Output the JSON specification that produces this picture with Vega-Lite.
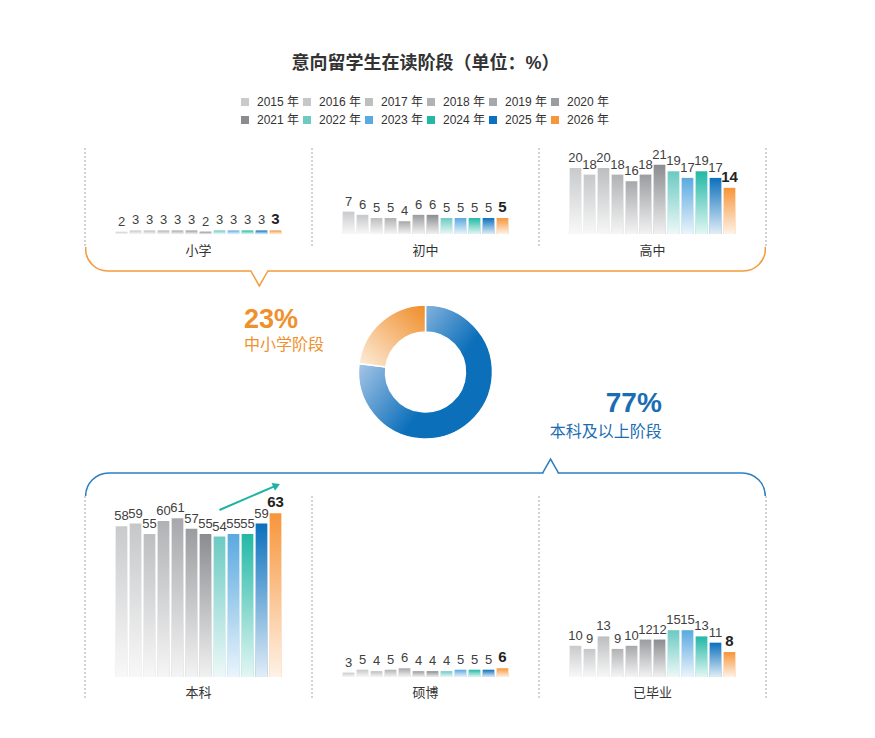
{
  "$schema": "https://vega.github.io/schema/vega-lite/v6.json",
  "autosize": {"type": "pad"},
  "padding": {"left": 84, "top": 55, "right": 20, "bottom": 20},
  "background": "white",
  "title": {"text": "意向留学生在读阶段（单位：%）", "fontSize": 18, "fontWeight": "bold", "color": "#333333", "anchor": "middle", "offset": 23},
  "bounds": "flush",
  "spacing": 0,
  "config": {
    "font": "Liberation Sans, Noto Sans CJK SC",
    "view": {"stroke": null},
    "range": {"category": ["#c9cacc", "#c6c7c9", "#bdbec0", "#b1b2b4", "#a7a8ab", "#9b9c9f", "#8b8c90", "#6ccac3", "#5aa9e0", "#22b8a6", "#0b70bd", "#f7953a"]},
    "legend": {"orient": "none", "legendX": 154, "legendY": -52, "columns": 6, "direction": "horizontal", "symbolType": "square", "symbolSize": 64, "symbolStrokeWidth": 0, "symbolOpacity": 1, "labelFontSize": 12, "labelColor": "#333333", "columnPadding": 1, "rowPadding": 6, "labelOffset": 6},
    "axisX": {"ticks": false, "domain": false, "grid": false, "labelAngle": 0, "labelFontSize": 13, "labelColor": "#333333", "labelBaseline": "middle"}
  },
  "datasets": {
    "stages": [
      {"stage": "小学", "year": "2015 年", "pct": 2}, {"stage": "小学", "year": "2016 年", "pct": 3}, {"stage": "小学", "year": "2017 年", "pct": 3}, {"stage": "小学", "year": "2018 年", "pct": 3},
      {"stage": "小学", "year": "2019 年", "pct": 3}, {"stage": "小学", "year": "2020 年", "pct": 3}, {"stage": "小学", "year": "2021 年", "pct": 2}, {"stage": "小学", "year": "2022 年", "pct": 3},
      {"stage": "小学", "year": "2023 年", "pct": 3}, {"stage": "小学", "year": "2024 年", "pct": 3}, {"stage": "小学", "year": "2025 年", "pct": 3}, {"stage": "小学", "year": "2026 年", "pct": 3},
      {"stage": "初中", "year": "2015 年", "pct": 7}, {"stage": "初中", "year": "2016 年", "pct": 6}, {"stage": "初中", "year": "2017 年", "pct": 5}, {"stage": "初中", "year": "2018 年", "pct": 5},
      {"stage": "初中", "year": "2019 年", "pct": 4}, {"stage": "初中", "year": "2020 年", "pct": 6}, {"stage": "初中", "year": "2021 年", "pct": 6}, {"stage": "初中", "year": "2022 年", "pct": 5},
      {"stage": "初中", "year": "2023 年", "pct": 5}, {"stage": "初中", "year": "2024 年", "pct": 5}, {"stage": "初中", "year": "2025 年", "pct": 5}, {"stage": "初中", "year": "2026 年", "pct": 5},
      {"stage": "高中", "year": "2015 年", "pct": 20}, {"stage": "高中", "year": "2016 年", "pct": 18}, {"stage": "高中", "year": "2017 年", "pct": 20}, {"stage": "高中", "year": "2018 年", "pct": 18},
      {"stage": "高中", "year": "2019 年", "pct": 16}, {"stage": "高中", "year": "2020 年", "pct": 18}, {"stage": "高中", "year": "2021 年", "pct": 21}, {"stage": "高中", "year": "2022 年", "pct": 19},
      {"stage": "高中", "year": "2023 年", "pct": 17}, {"stage": "高中", "year": "2024 年", "pct": 19}, {"stage": "高中", "year": "2025 年", "pct": 17}, {"stage": "高中", "year": "2026 年", "pct": 14},
      {"stage": "本科", "year": "2015 年", "pct": 58}, {"stage": "本科", "year": "2016 年", "pct": 59}, {"stage": "本科", "year": "2017 年", "pct": 55}, {"stage": "本科", "year": "2018 年", "pct": 60},
      {"stage": "本科", "year": "2019 年", "pct": 61}, {"stage": "本科", "year": "2020 年", "pct": 57}, {"stage": "本科", "year": "2021 年", "pct": 55}, {"stage": "本科", "year": "2022 年", "pct": 54},
      {"stage": "本科", "year": "2023 年", "pct": 55}, {"stage": "本科", "year": "2024 年", "pct": 55}, {"stage": "本科", "year": "2025 年", "pct": 59}, {"stage": "本科", "year": "2026 年", "pct": 63},
      {"stage": "硕博", "year": "2015 年", "pct": 3}, {"stage": "硕博", "year": "2016 年", "pct": 5}, {"stage": "硕博", "year": "2017 年", "pct": 4}, {"stage": "硕博", "year": "2018 年", "pct": 5},
      {"stage": "硕博", "year": "2019 年", "pct": 6}, {"stage": "硕博", "year": "2020 年", "pct": 4}, {"stage": "硕博", "year": "2021 年", "pct": 4}, {"stage": "硕博", "year": "2022 年", "pct": 4},
      {"stage": "硕博", "year": "2023 年", "pct": 5}, {"stage": "硕博", "year": "2024 年", "pct": 5}, {"stage": "硕博", "year": "2025 年", "pct": 5}, {"stage": "硕博", "year": "2026 年", "pct": 6},
      {"stage": "已毕业", "year": "2015 年", "pct": 10}, {"stage": "已毕业", "year": "2016 年", "pct": 9}, {"stage": "已毕业", "year": "2017 年", "pct": 13}, {"stage": "已毕业", "year": "2018 年", "pct": 9},
      {"stage": "已毕业", "year": "2019 年", "pct": 10}, {"stage": "已毕业", "year": "2020 年", "pct": 12}, {"stage": "已毕业", "year": "2021 年", "pct": 12}, {"stage": "已毕业", "year": "2022 年", "pct": 15},
      {"stage": "已毕业", "year": "2023 年", "pct": 15}, {"stage": "已毕业", "year": "2024 年", "pct": 13}, {"stage": "已毕业", "year": "2025 年", "pct": 11}, {"stage": "已毕业", "year": "2026 年", "pct": 8}
    ],
    "share": [
      {"stage": "本科及以上阶段", "share": 0.77},
      {"stage": "中小学阶段", "share": 0.23}
    ],
    "arrow": [
      {"stage": "本科", "year": "2022 年", "pct": 64.2},
      {"stage": "本科", "year": "2026 年", "pct": 73.5}
    ]
  },
  "vconcat": [
    {
      "width": 681, "height": 99,
      "data": {"name": "stages"},
      "encoding": {
        "x": {"field": "stage", "type": "nominal", "title": null, "scale": {"domain": ["小学", "初中", "高中"], "paddingInner": 0, "paddingOuter": 0}, "axis": {"labelPadding": 3}}
      },
      "layer": [
        {"transform": [{"filter": "datum.year == '2015 年' && (datum.stage == '小学' || datum.stage == '初中' || datum.stage == '高中')"}],
         "mark": {"type": "rule", "strokeDash": [2, 2], "color": "#a6a6a6", "strokeWidth": 1},
         "encoding": {"x": {"field": "stage", "type": "nominal", "bandPosition": 0}}},
        {"transform": [{"filter": "datum.year == '2015 年' && datum.stage == '高中'"}],
         "mark": {"type": "rule", "strokeDash": [2, 2], "color": "#a6a6a6", "strokeWidth": 1},
         "encoding": {"x": {"field": "stage", "type": "nominal", "bandPosition": 1}}},
        {
          "transform": [{"filter": "datum.stage == '小学'"}],
          "encoding": {
            "xOffset": {"field": "year", "type": "nominal", "scale": {"domain": ["_a", "_b", "2015 年", "2016 年", "2017 年", "2018 年", "2019 年", "2020 年", "2021 年", "2022 年", "2023 年", "2024 年", "2025 年", "2026 年", "_c", "_d"], "paddingInner": 0.165, "paddingOuter": 0.19}},
            "y": {"field": "pct", "type": "quantitative", "scale": {"domain": [-10.8, 71.7]}, "axis": null}
          },
          "layer": [
            {"mark": "bar", "encoding": {"color": {"field": "year", "type": "nominal", "title": null}}},
            {"mark": {"type": "bar", "fill": {"gradient": "linear", "x1": 0, "y1": 0, "x2": 0, "y2": 1, "stops": [{"offset": 0, "color": "rgba(255,255,255,0)"}, {"offset": 1, "color": "rgba(255,255,255,0.88)"}]}}},
            {"transform": [{"filter": "datum.year != '2026 年'"}], "mark": {"type": "text", "baseline": "bottom", "dy": -3, "fontSize": 13, "color": "#404040"}, "encoding": {"text": {"field": "pct"}}},
            {"transform": [{"filter": "datum.year == '2026 年'"}], "mark": {"type": "text", "baseline": "bottom", "dy": -3, "fontSize": 15, "fontWeight": "bold", "color": "#222222"}, "encoding": {"text": {"field": "pct"}}}
          ]
        },
        {
          "transform": [{"filter": "datum.stage == '初中'"}],
          "encoding": {
            "xOffset": {"field": "year", "type": "nominal", "scale": {"domain": ["_a", "_b", "2015 年", "2016 年", "2017 年", "2018 年", "2019 年", "2020 年", "2021 年", "2022 年", "2023 年", "2024 年", "2025 年", "2026 年", "_c", "_d"], "paddingInner": 0.165, "paddingOuter": 0.19}},
            "y": {"field": "pct", "type": "quantitative", "scale": {"domain": [-4.06, 26.9]}, "axis": null}
          },
          "layer": [
            {"mark": "bar", "encoding": {"color": {"field": "year", "type": "nominal", "title": null}}},
            {"mark": {"type": "bar", "fill": {"gradient": "linear", "x1": 0, "y1": 0, "x2": 0, "y2": 1, "stops": [{"offset": 0, "color": "rgba(255,255,255,0)"}, {"offset": 1, "color": "rgba(255,255,255,0.88)"}]}}},
            {"transform": [{"filter": "datum.year != '2026 年'"}], "mark": {"type": "text", "baseline": "bottom", "dy": -3, "fontSize": 13, "color": "#404040"}, "encoding": {"text": {"field": "pct"}}},
            {"transform": [{"filter": "datum.year == '2026 年'"}], "mark": {"type": "text", "baseline": "bottom", "dy": -3, "fontSize": 15, "fontWeight": "bold", "color": "#222222"}, "encoding": {"text": {"field": "pct"}}}
          ]
        },
        {
          "transform": [{"filter": "datum.stage == '高中'"}],
          "encoding": {
            "xOffset": {"field": "year", "type": "nominal", "scale": {"domain": ["_a", "_b", "2015 年", "2016 年", "2017 年", "2018 年", "2019 年", "2020 年", "2021 年", "2022 年", "2023 年", "2024 年", "2025 年", "2026 年", "_c", "_d"], "paddingInner": 0.165, "paddingOuter": 0.19}},
            "y": {"field": "pct", "type": "quantitative", "scale": {"domain": [-3.94, 26.06]}, "axis": null}
          },
          "layer": [
            {"mark": "bar", "encoding": {"color": {"field": "year", "type": "nominal", "title": null}}},
            {"mark": {"type": "bar", "fill": {"gradient": "linear", "x1": 0, "y1": 0, "x2": 0, "y2": 1, "stops": [{"offset": 0, "color": "rgba(255,255,255,0)"}, {"offset": 1, "color": "rgba(255,255,255,0.88)"}]}}},
            {"transform": [{"filter": "datum.year != '2026 年'"}], "mark": {"type": "text", "baseline": "bottom", "dy": -3, "fontSize": 13, "color": "#404040"}, "encoding": {"text": {"field": "pct"}}},
            {"transform": [{"filter": "datum.year == '2026 年'"}], "mark": {"type": "text", "baseline": "bottom", "dy": -3, "fontSize": 15, "fontWeight": "bold", "color": "#222222"}, "encoding": {"text": {"field": "pct"}}}
          ]
        }
      ],
      "resolve": {"scale": {"y": "independent"}}
    },
    {
      "width": 681, "height": 25,
      "data": {"values": [{}]},
      "encoding": {
        "x": {"datum": 0, "type": "quantitative", "scale": {"domain": [-0.001, 1.001]}, "axis": null},
        "y": {"datum": 0.04, "type": "quantitative", "scale": {"domain": [0, 1]}, "axis": null}
      },
      "layer": [
        {"mark": {"type": "rect", "clip": true, "fill": null, "stroke": "#f39a3c", "strokeWidth": 1.5, "cornerRadius": 22},
         "encoding": {"x2": {"datum": 1}, "y2": {"datum": 3}}},
        {"mark": {"type": "point", "shape": "M-0.93,-0.3L0.93,-0.3L0.93,0.3L-0.93,0.3Z", "size": 289, "filled": true, "color": "white", "strokeWidth": 0, "opacity": 1},
         "encoding": {"x": {"datum": 0.2555, "type": "quantitative"}}},
        {"mark": {"type": "point", "shape": "M-1,0L0,1.76L1,0", "size": 289, "filled": false, "color": "#f39a3c", "strokeWidth": 1.5, "opacity": 1},
         "encoding": {"x": {"datum": 0.2555, "type": "quantitative"}}}
      ]
    },
    {
      "width": 681, "height": 200,
      "data": {"name": "share"},
      "layer": [
        {"transform": [{"stack": "share", "groupby": [], "sort": [{"field": "share", "order": "descending"}], "as": ["s0", "s1"]}, {"filter": "datum.stage == '本科及以上阶段'"}],
         "mark": {"type": "arc", "innerRadius": 40, "outerRadius": 67, "stroke": "white", "strokeWidth": 1.5,
                  "fill": {"gradient": "linear", "x1": 0.05, "y1": 0.2, "x2": 0.6, "y2": 0.62, "stops": [{"offset": 0, "color": "#c3d5ef"}, {"offset": 1, "color": "#0b6fba"}]}},
         "encoding": {"theta": {"field": "s0", "type": "quantitative", "scale": {"domain": [0, 1]}}, "theta2": {"field": "s1"}}},
        {"transform": [{"stack": "share", "groupby": [], "sort": [{"field": "share", "order": "descending"}], "as": ["s0", "s1"]}, {"filter": "datum.stage == '中小学阶段'"}],
         "mark": {"type": "arc", "innerRadius": 40, "outerRadius": 67, "stroke": "white", "strokeWidth": 1.5,
                  "fill": {"gradient": "linear", "x1": 1, "y1": 0, "x2": 0, "y2": 1, "stops": [{"offset": 0, "color": "#ef8c27"}, {"offset": 1, "color": "#fdeedd"}]}},
         "encoding": {"theta": {"field": "s0", "type": "quantitative", "scale": {"domain": [0, 1]}}, "theta2": {"field": "s1"}}},
        {"transform": [{"filter": "datum.stage == '中小学阶段'"}],
         "mark": {"type": "text", "align": "left", "baseline": "middle", "fontSize": 27, "fontWeight": "bold", "color": "#f0902c"},
         "encoding": {"x": {"datum": 0.2335, "type": "quantitative", "scale": {"domain": [0, 1]}, "axis": null}, "y": {"datum": 0.76, "type": "quantitative", "scale": {"domain": [0, 1]}, "axis": null}, "text": {"field": "share", "format": ".0%"}}},
        {"transform": [{"filter": "datum.stage == '中小学阶段'"}],
         "mark": {"type": "text", "align": "left", "baseline": "middle", "fontSize": 16, "color": "#f0902c"},
         "encoding": {"x": {"datum": 0.2335, "type": "quantitative"}, "y": {"datum": 0.635, "type": "quantitative"}, "text": {"field": "stage"}}},
        {"transform": [{"filter": "datum.stage == '本科及以上阶段'"}],
         "mark": {"type": "text", "align": "right", "baseline": "middle", "fontSize": 28, "fontWeight": "bold", "color": "#1a6db3"},
         "encoding": {"x": {"datum": 0.847, "type": "quantitative"}, "y": {"datum": 0.34, "type": "quantitative"}, "text": {"field": "share", "format": ".0%"}}},
        {"transform": [{"filter": "datum.stage == '本科及以上阶段'"}],
         "mark": {"type": "text", "align": "right", "baseline": "middle", "fontSize": 16, "color": "#1a6db3"},
         "encoding": {"x": {"datum": 0.847, "type": "quantitative"}, "y": {"datum": 0.2, "type": "quantitative"}, "text": {"field": "stage"}}}
      ]
    },
    {
      "width": 681, "height": 24,
      "data": {"values": [{}]},
      "encoding": {
        "x": {"datum": 0, "type": "quantitative", "scale": {"domain": [-0.001, 1.001]}, "axis": null},
        "y": {"datum": 0.958, "type": "quantitative", "scale": {"domain": [0, 1]}, "axis": null}
      },
      "layer": [
        {"mark": {"type": "rect", "clip": true, "fill": null, "stroke": "#2a7fc2", "strokeWidth": 1.5, "cornerRadius": 23},
         "encoding": {"x2": {"datum": 1}, "y2": {"datum": -3}}},
        {"mark": {"type": "point", "shape": "M-0.9,-0.3L0.9,-0.3L0.9,0.3L-0.9,0.3Z", "size": 256, "filled": true, "color": "white", "strokeWidth": 0, "opacity": 1},
         "encoding": {"x": {"datum": 0.684, "type": "quantitative"}}},
        {"mark": {"type": "point", "shape": "M-1,0L0,-1.75L1,0", "size": 256, "filled": false, "color": "#2a7fc2", "strokeWidth": 1.5, "opacity": 1},
         "encoding": {"x": {"datum": 0.684, "type": "quantitative"}}}
      ]
    },
    {
      "width": 681, "height": 203,
      "data": {"name": "stages"},
      "encoding": {
        "x": {"field": "stage", "type": "nominal", "title": null, "scale": {"domain": ["本科", "硕博", "已毕业"], "paddingInner": 0, "paddingOuter": 0}, "axis": {"labelPadding": -7}}
      },
      "layer": [
        {"transform": [{"filter": "datum.year == '2015 年' && (datum.stage == '本科' || datum.stage == '硕博' || datum.stage == '已毕业')"}],
         "mark": {"type": "rule", "strokeDash": [2, 2], "color": "#a6a6a6", "strokeWidth": 1},
         "encoding": {"x": {"field": "stage", "type": "nominal", "bandPosition": 0}}},
        {"transform": [{"filter": "datum.year == '2015 年' && datum.stage == '已毕业'"}],
         "mark": {"type": "rule", "strokeDash": [2, 2], "color": "#a6a6a6", "strokeWidth": 1},
         "encoding": {"x": {"field": "stage", "type": "nominal", "bandPosition": 1}}},
        {
          "transform": [{"filter": "datum.stage == '本科'"}],
          "encoding": {
            "xOffset": {"field": "year", "type": "nominal", "scale": {"domain": ["_a", "_b", "2015 年", "2016 年", "2017 年", "2018 年", "2019 年", "2020 年", "2021 年", "2022 年", "2023 年", "2024 年", "2025 年", "2026 年", "_c", "_d"], "paddingInner": 0.165, "paddingOuter": 0.19}},
            "y": {"field": "pct", "type": "quantitative", "scale": {"domain": [-8.46, 69.6]}, "axis": null}
          },
          "layer": [
            {"mark": "bar", "encoding": {"color": {"field": "year", "type": "nominal", "title": null}}},
            {"mark": {"type": "bar", "fill": {"gradient": "linear", "x1": 0, "y1": 0, "x2": 0, "y2": 1, "stops": [{"offset": 0, "color": "rgba(255,255,255,0)"}, {"offset": 1, "color": "rgba(255,255,255,0.88)"}]}}},
            {"transform": [{"filter": "datum.year != '2026 年'"}], "mark": {"type": "text", "baseline": "bottom", "dy": -3, "fontSize": 13, "color": "#404040"}, "encoding": {"text": {"field": "pct"}}},
            {"transform": [{"filter": "datum.year == '2026 年'"}], "mark": {"type": "text", "baseline": "bottom", "dy": -3, "fontSize": 15, "fontWeight": "bold", "color": "#222222"}, "encoding": {"text": {"field": "pct"}}},
            {"data": {"name": "arrow"}, "mark": {"type": "line", "color": "#1db3a2", "strokeWidth": 2}},
            {"data": {"name": "arrow"}, "transform": [{"filter": "datum.year == '2026 年'"}], "mark": {"type": "point", "shape": "triangle", "angle": 66, "size": 70, "filled": true, "color": "#1db3a2", "opacity": 1}}
          ]
        },
        {
          "transform": [{"filter": "datum.stage == '硕博'"}],
          "encoding": {
            "xOffset": {"field": "year", "type": "nominal", "scale": {"domain": ["_a", "_b", "2015 年", "2016 年", "2017 年", "2018 年", "2019 年", "2020 年", "2021 年", "2022 年", "2023 年", "2024 年", "2025 年", "2026 年", "_c", "_d"], "paddingInner": 0.165, "paddingOuter": 0.19}},
            "y": {"field": "pct", "type": "quantitative", "scale": {"domain": [-15.2, 124.8]}, "axis": null}
          },
          "layer": [
            {"mark": "bar", "encoding": {"color": {"field": "year", "type": "nominal", "title": null}}},
            {"mark": {"type": "bar", "fill": {"gradient": "linear", "x1": 0, "y1": 0, "x2": 0, "y2": 1, "stops": [{"offset": 0, "color": "rgba(255,255,255,0)"}, {"offset": 1, "color": "rgba(255,255,255,0.88)"}]}}},
            {"transform": [{"filter": "datum.year != '2026 年'"}], "mark": {"type": "text", "baseline": "bottom", "dy": -3, "fontSize": 13, "color": "#404040"}, "encoding": {"text": {"field": "pct"}}},
            {"transform": [{"filter": "datum.year == '2026 年'"}], "mark": {"type": "text", "baseline": "bottom", "dy": -3, "fontSize": 15, "fontWeight": "bold", "color": "#222222"}, "encoding": {"text": {"field": "pct"}}}
          ]
        },
        {
          "transform": [{"filter": "datum.stage == '已毕业'"}],
          "encoding": {
            "xOffset": {"field": "year", "type": "nominal", "scale": {"domain": ["_a", "_b", "2015 年", "2016 年", "2017 年", "2018 年", "2019 年", "2020 年", "2021 年", "2022 年", "2023 年", "2024 年", "2025 年", "2026 年", "_c", "_d"], "paddingInner": 0.165, "paddingOuter": 0.19}},
            "y": {"field": "pct", "type": "quantitative", "scale": {"domain": [-7.05, 58]}, "axis": null}
          },
          "layer": [
            {"mark": "bar", "encoding": {"color": {"field": "year", "type": "nominal", "title": null}}},
            {"mark": {"type": "bar", "fill": {"gradient": "linear", "x1": 0, "y1": 0, "x2": 0, "y2": 1, "stops": [{"offset": 0, "color": "rgba(255,255,255,0)"}, {"offset": 1, "color": "rgba(255,255,255,0.88)"}]}}},
            {"transform": [{"filter": "datum.year != '2026 年'"}], "mark": {"type": "text", "baseline": "bottom", "dy": -3, "fontSize": 13, "color": "#404040"}, "encoding": {"text": {"field": "pct"}}},
            {"transform": [{"filter": "datum.year == '2026 年'"}], "mark": {"type": "text", "baseline": "bottom", "dy": -3, "fontSize": 15, "fontWeight": "bold", "color": "#222222"}, "encoding": {"text": {"field": "pct"}}}
          ]
        }
      ],
      "resolve": {"scale": {"y": "independent"}}
    }
  ]
}
